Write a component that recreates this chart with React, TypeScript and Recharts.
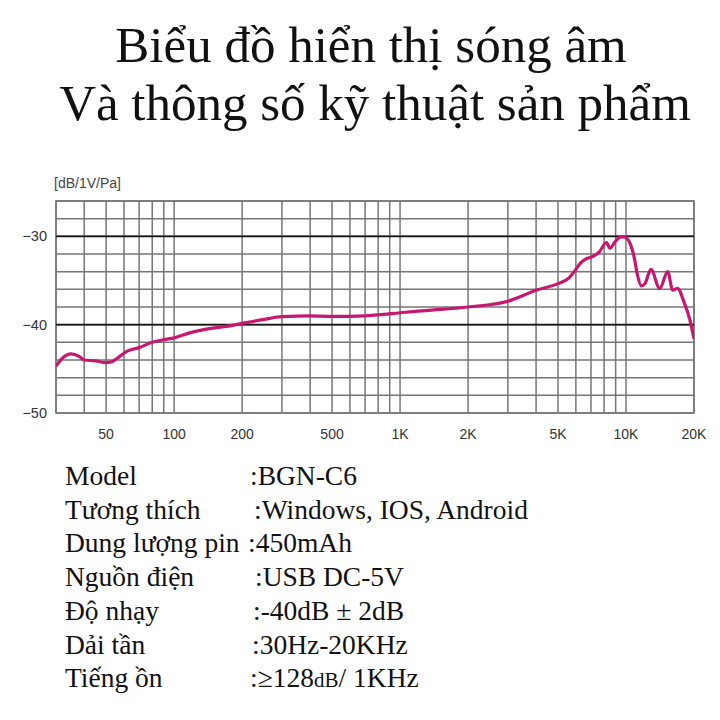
import React from 'react';
import {
  LineChart,
  Line,
  XAxis,
  YAxis,
  CartesianGrid,
  ReferenceLine,
  ReferenceArea,
} from 'recharts';

// Frequency response of the microphone (Hz → dB re 1V/Pa)
const frequencies = [
  30, 32, 35, 38, 40, 45, 50, 53, 56, 62, 70, 80, 90, 100, 118, 139, 170, 200,
  250, 300, 400, 500, 600, 700, 800, 1000, 1300, 2000, 3000, 4000, 5000, 5600,
  6000, 6300, 6600, 7100, 7600, 8200, 8500, 8900, 9500, 9900, 10500, 10900,
  11200, 11700, 12100, 12900, 14100, 15300, 16100, 16900, 18100, 19200, 20000,
];
const responseDb = [
  -44.7, -43.8, -43.3, -43.6, -44.0, -44.1, -44.3, -44.2, -43.8, -43.0, -42.6,
  -42.0, -41.7, -41.5, -40.9, -40.5, -40.2, -39.85, -39.4, -39.1, -39.0, -39.05,
  -39.05, -39.0, -38.9, -38.65, -38.4, -38.0, -37.35, -36.1, -35.35, -34.7,
  -33.75, -33.0, -32.6, -32.3, -31.8, -30.7, -31.35, -30.7, -30.05, -30.1,
  -31.0, -32.5, -34.2, -35.6, -35.4, -33.75, -35.9, -34.0, -36.1, -35.9, -37.5,
  -39.5, -41.6,
];

// Log grid: 30–100 by 10, 100–1K by 100, 1K–10K by 1K, then 20K
const gridFrequencies = [
  30, 40, 50, 60, 70, 80, 90, 100, 200, 300, 400, 500, 600, 700, 800, 900,
  1000, 2000, 3000, 4000, 5000, 6000, 7000, 8000, 9000, 10000, 20000,
];
const labeledFrequencies = [50, 100, 200, 500, 1000, 2000, 5000, 10000, 20000];
const levelTicks = [-50, -48, -46, -44, -42, -40, -38, -36, -34, -32, -30, -28, -26];
const labeledLevels = [-50, -40, -30];
const majorLevels = [-30, -40];

const unitLabel = '[dB/1V/Pa]';
const titleLines = ['Biểu đồ hiển thị sóng âm', 'Và thông số kỹ thuật sản phẩm'];
const specLabels = [
  'Model',
  'Tương thích',
  'Dung lượng pin',
  'Nguồn điện',
  'Độ nhạy',
  'Dải tần',
  'Tiếng ồn',
];
const specValues = [
  'BGN-C6',
  'Windows, IOS, Android',
  '450mAh',
  'USB DC-5V',
  '-40dB ± 2dB',
  '30Hz-20KHz',
  '≥128dB/ 1KHz',
];

const chartData = frequencies.map((f, i) => ({ f, db: responseDb[i] }));

const formatFreq = (v: number) =>
  v >= 1000 ? `${v / 1000}K` : `${v}`;

const SANS = '"Liberation Sans", Arial, sans-serif';
const SERIF = '"Liberation Serif", "Times New Roman", serif';
const CURVE = '#c8176f';
const GRID = '#767676';

const FreqTick = (props: any) => {
  const { x, y, payload } = props;
  const v = payload.value as number;
  if (!labeledFrequencies.includes(v)) return null;
  return (
    <text
      x={x}
      y={y}
      dy="0.71em"
      textAnchor="middle"
      fontFamily={SANS}
      fontSize={14}
      fill="#333"
    >
      {formatFreq(v)}
    </text>
  );
};

const LevelTick = (props: any) => {
  const { x, y, payload } = props;
  const v = payload.value as number;
  if (!labeledLevels.includes(v)) return null;
  return (
    <text
      x={x}
      y={y}
      dy="0.355em"
      textAnchor="end"
      fontFamily={SANS}
      fontSize={14.5}
      fill="#333"
    >
      {`\u2212${Math.abs(v)}`}
    </text>
  );
};

// Per-row x of the colon column and row baselines of the spec table
const specColonX = [250, 254, 248, 255, 253, 252, 250];
const specBaseline0 = 485;
const specRowStep = 33.7;

const renderSpecValue = (value: string) => {
  const idx = value.indexOf('dB/');
  if (idx < 0) return value;
  return (
    <>
      {value.slice(0, idx)}
      <tspan fontSize={21}>dB</tspan>
      {value.slice(idx + 2)}
    </>
  );
};

export default function App() {
  return (
    <div
      style={{
        position: 'absolute',
        left: 0,
        top: 0,
        width: 720,
        height: 720,
        background: '#fff',
        overflow: 'hidden',
      }}
    >
      <div style={{ position: 'absolute', left: 0, top: 0 }}>
        <LineChart
          width={720}
          height={720}
          data={chartData}
          margin={{ top: 201, right: 26, bottom: 277, left: 0 }}
        >
          <CartesianGrid stroke={GRID} strokeWidth={1.5} />
          <XAxis
            dataKey="f"
            type="number"
            scale="log"
            domain={[30, 20000]}
            ticks={gridFrequencies}
            interval={0}
            allowDataOverflow
            axisLine={false}
            tickLine={false}
            tickSize={6}
            tickMargin={10}
            height={30}
            tick={FreqTick}
          />
          <YAxis
            type="number"
            domain={[-50, -26]}
            ticks={levelTicks}
            interval={0}
            allowDataOverflow
            axisLine={false}
            tickLine={false}
            tickSize={6}
            tickMargin={3}
            width={56}
            tick={LevelTick}
          />
          {majorLevels.map((lv) => (
            <ReferenceLine key={lv} y={lv} stroke="#151515" strokeWidth={1.8} />
          ))}
          <ReferenceArea
            x1={30}
            x2={20000}
            y1={-50}
            y2={-26}
            fill="none"
            stroke={GRID}
            strokeWidth={1.5}
          />
          <Line
            type="monotone"
            dataKey="db"
            stroke={CURVE}
            strokeWidth={3.2}
            dot={false}
            activeDot={false}
            isAnimationActive={false}
          />
        </LineChart>
      </div>
      <svg
        width={720}
        height={720}
        style={{ position: 'absolute', left: 0, top: 0, pointerEvents: 'none' }}
      >
        <text x={371} y={62} textAnchor="middle" fontFamily={SERIF} fontSize={51} fill="#111">
          {titleLines[0]}
        </text>
        <text x={375} y={120} textAnchor="middle" fontFamily={SERIF} fontSize={51} fill="#111">
          {titleLines[1]}
        </text>
        <text x={54} y={188} fontFamily={SANS} fontSize={14} fill="#444">
          {unitLabel}
        </text>
        {specLabels.map((label, i) => {
          const y = specBaseline0 + i * specRowStep;
          return (
            <g key={label}>
              <text x={65} y={y} fontFamily={SERIF} fontSize={27.5} fill="#111">
                {label}
              </text>
              <text x={specColonX[i]} y={y} fontFamily={SERIF} fontSize={27.5} fill="#111">
                {':'}
                {renderSpecValue(specValues[i])}
              </text>
            </g>
          );
        })}
      </svg>
    </div>
  );
}
